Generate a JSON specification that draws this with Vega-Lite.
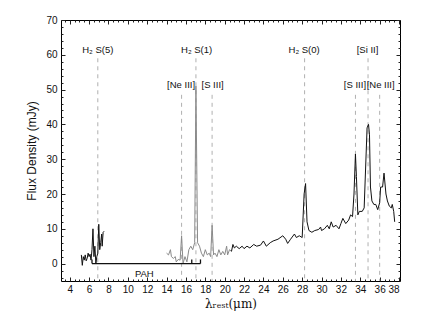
{
  "$schema": "https://vega.github.io/schema/vega-lite/v6.json",
  "width": 339,
  "height": 261,
  "autosize": {"type": "none"},
  "padding": {"left": 61, "top": 20, "right": 36, "bottom": 46},
  "background": "white",
  "config": {
    "view": {"stroke": "black", "strokeWidth": 1},
    "axis": {"grid": false, "domain": false, "labelFont": "Liberation Sans", "labelFontSize": 10, "labelColor": "#111", "tickColor": "#222"}
  },
  "datasets": {
    "spec": [
      {"wl": 5.2, "flux": 2.5, "seg": "a"}, {"wl": 5.3, "flux": -0.5, "seg": "a"}, {"wl": 5.4, "flux": 2, "seg": "a"}, {"wl": 5.5, "flux": 1, "seg": "a"},
      {"wl": 5.6, "flux": 2.5, "seg": "a"}, {"wl": 5.7, "flux": 0.8, "seg": "a"}, {"wl": 5.8, "flux": 1.5, "seg": "a"}, {"wl": 5.9, "flux": 3, "seg": "a"},
      {"wl": 6.0, "flux": 2, "seg": "a"}, {"wl": 6.1, "flux": 2.7, "seg": "a"}, {"wl": 6.2, "flux": 1, "seg": "a"}, {"wl": 6.3, "flux": 4, "seg": "a"},
      {"wl": 6.4, "flux": 10, "seg": "a"}, {"wl": 6.5, "flux": 2, "seg": "a"}, {"wl": 6.6, "flux": 5, "seg": "a"}, {"wl": 6.7, "flux": 0, "seg": "a"},
      {"wl": 6.8, "flux": 2, "seg": "a"}, {"wl": 6.9, "flux": 3, "seg": "a"}, {"wl": 7.0, "flux": 11.3, "seg": "a"}, {"wl": 7.1, "flux": 4, "seg": "a"},
      {"wl": 7.2, "flux": 6, "seg": "a"}, {"wl": 7.3, "flux": 8.5, "seg": "a"}, {"wl": 7.35, "flux": 5, "seg": "a"}, {"wl": 7.45, "flux": 9, "seg": "a"},
      {"wl": 7.55, "flux": 9.3, "seg": "a"},
      {"wl": 14.0, "flux": 3, "seg": "b"}, {"wl": 14.2, "flux": 2.5, "seg": "b"}, {"wl": 14.4, "flux": 4, "seg": "b"}, {"wl": 14.5, "flux": 2, "seg": "b"},
      {"wl": 14.7, "flux": 1.5, "seg": "b"}, {"wl": 14.9, "flux": 2, "seg": "b"}, {"wl": 15.0, "flux": 0.5, "seg": "b"}, {"wl": 15.2, "flux": 1.2, "seg": "b"},
      {"wl": 15.4, "flux": 1, "seg": "b"}, {"wl": 15.55, "flux": 8, "seg": "b"}, {"wl": 15.7, "flux": 0, "seg": "b"}, {"wl": 15.9, "flux": 2, "seg": "b"},
      {"wl": 16.1, "flux": 0.5, "seg": "b"}, {"wl": 16.3, "flux": 4, "seg": "b"}, {"wl": 16.5, "flux": 5, "seg": "b"}, {"wl": 16.7, "flux": 4, "seg": "b"},
      {"wl": 16.9, "flux": 6, "seg": "b"}, {"wl": 17.03, "flux": 51, "seg": "b"}, {"wl": 17.2, "flux": 6, "seg": "b"}, {"wl": 17.4, "flux": 5, "seg": "b"},
      {"wl": 17.6, "flux": 3, "seg": "b"}, {"wl": 17.8, "flux": 2, "seg": "b"}, {"wl": 18.0, "flux": 4, "seg": "b"}, {"wl": 18.2, "flux": 2.5, "seg": "b"},
      {"wl": 18.4, "flux": 3, "seg": "b"}, {"wl": 18.55, "flux": 2, "seg": "b"}, {"wl": 18.7, "flux": 11, "seg": "b"}, {"wl": 18.85, "flux": 2.5, "seg": "b"},
      {"wl": 19.0, "flux": 3, "seg": "b"}, {"wl": 19.2, "flux": 2, "seg": "b"}, {"wl": 19.4, "flux": 4, "seg": "b"}, {"wl": 19.6, "flux": 2.5, "seg": "b"},
      {"wl": 19.8, "flux": 3.5, "seg": "b"}, {"wl": 20.0, "flux": 2.5, "seg": "b"}, {"wl": 20.2, "flux": 5, "seg": "b"}, {"wl": 20.3, "flux": 2.5, "seg": "b"},
      {"wl": 20.5, "flux": 4, "seg": "b"}, {"wl": 20.7, "flux": 3.5, "seg": "b"},
      {"wl": 20.7, "flux": 3.5, "seg": "c"}, {"wl": 20.85, "flux": 5.5, "seg": "c"}, {"wl": 21.0, "flux": 4.5, "seg": "c"}, {"wl": 21.2, "flux": 5, "seg": "c"},
      {"wl": 21.5, "flux": 4.3, "seg": "c"}, {"wl": 21.8, "flux": 5, "seg": "c"}, {"wl": 22.0, "flux": 4.3, "seg": "c"}, {"wl": 22.3, "flux": 5, "seg": "c"},
      {"wl": 22.6, "flux": 4.5, "seg": "c"}, {"wl": 23.0, "flux": 5.5, "seg": "c"}, {"wl": 23.3, "flux": 5, "seg": "c"}, {"wl": 23.7, "flux": 5.3, "seg": "c"},
      {"wl": 24.0, "flux": 6.5, "seg": "c"}, {"wl": 24.3, "flux": 5, "seg": "c"}, {"wl": 24.7, "flux": 6, "seg": "c"}, {"wl": 25.0, "flux": 6.5, "seg": "c"},
      {"wl": 25.5, "flux": 7, "seg": "c"}, {"wl": 26.0, "flux": 8, "seg": "c"}, {"wl": 26.3, "flux": 7, "seg": "c"}, {"wl": 26.5, "flux": 5.8, "seg": "c"},
      {"wl": 26.8, "flux": 7, "seg": "c"}, {"wl": 27.2, "flux": 8.5, "seg": "c"}, {"wl": 27.4, "flux": 7.5, "seg": "c"}, {"wl": 27.7, "flux": 8, "seg": "c"},
      {"wl": 28.0, "flux": 7.5, "seg": "c"}, {"wl": 28.2, "flux": 20, "seg": "c"}, {"wl": 28.35, "flux": 23, "seg": "c"}, {"wl": 28.5, "flux": 12, "seg": "c"},
      {"wl": 28.7, "flux": 9.5, "seg": "c"}, {"wl": 29.0, "flux": 9, "seg": "c"}, {"wl": 29.3, "flux": 9.5, "seg": "c"}, {"wl": 29.7, "flux": 9.8, "seg": "c"},
      {"wl": 29.9, "flux": 10.5, "seg": "c"}, {"wl": 30.0, "flux": 9.5, "seg": "c"}, {"wl": 30.3, "flux": 10, "seg": "c"}, {"wl": 30.6, "flux": 11, "seg": "c"},
      {"wl": 30.8, "flux": 10, "seg": "c"}, {"wl": 31.0, "flux": 12, "seg": "c"}, {"wl": 31.2, "flux": 10.5, "seg": "c"}, {"wl": 31.5, "flux": 11, "seg": "c"},
      {"wl": 31.8, "flux": 10, "seg": "c"}, {"wl": 32.0, "flux": 11.5, "seg": "c"}, {"wl": 32.2, "flux": 13, "seg": "c"}, {"wl": 32.5, "flux": 11.5, "seg": "c"},
      {"wl": 32.8, "flux": 12.5, "seg": "c"}, {"wl": 33.0, "flux": 14, "seg": "c"}, {"wl": 33.2, "flux": 13.5, "seg": "c"}, {"wl": 33.35, "flux": 20, "seg": "c"},
      {"wl": 33.5, "flux": 31.5, "seg": "c"}, {"wl": 33.6, "flux": 25, "seg": "c"}, {"wl": 33.75, "flux": 14, "seg": "c"}, {"wl": 33.9, "flux": 15, "seg": "c"},
      {"wl": 34.2, "flux": 15, "seg": "c"}, {"wl": 34.4, "flux": 16, "seg": "c"}, {"wl": 34.7, "flux": 39, "seg": "c"}, {"wl": 34.85, "flux": 40, "seg": "c"},
      {"wl": 34.95, "flux": 37, "seg": "c"}, {"wl": 35.05, "flux": 22, "seg": "c"}, {"wl": 35.2, "flux": 18, "seg": "c"}, {"wl": 35.4, "flux": 17, "seg": "c"},
      {"wl": 35.6, "flux": 17, "seg": "c"}, {"wl": 35.8, "flux": 15.5, "seg": "c"}, {"wl": 36.0, "flux": 17.5, "seg": "c"}, {"wl": 36.1, "flux": 22, "seg": "c"},
      {"wl": 36.3, "flux": 22, "seg": "c"}, {"wl": 36.45, "flux": 26, "seg": "c"}, {"wl": 36.65, "flux": 20, "seg": "c"}, {"wl": 36.8, "flux": 18, "seg": "c"},
      {"wl": 37.0, "flux": 16.5, "seg": "c"}, {"wl": 37.2, "flux": 16, "seg": "c"}, {"wl": 37.3, "flux": 17, "seg": "c"}, {"wl": 37.45, "flux": 15, "seg": "c"},
      {"wl": 37.55, "flux": 12, "seg": "c"}
    ],
    "lines": [
      {"wl": 6.9, "top": 59}, {"wl": 17.03, "top": 59}, {"wl": 28.25, "top": 59}, {"wl": 34.8, "top": 59},
      {"wl": 15.55, "top": 48.5}, {"wl": 18.7, "top": 48.5}, {"wl": 33.5, "top": 48.5}, {"wl": 36.0, "top": 48.5}
    ],
    "labels": [
      {"wl": 6.9, "y": 61.3, "text": "H₂ S(5)"}, {"wl": 17.1, "y": 61.3, "text": "H₂ S(1)"}, {"wl": 28.2, "y": 61.3, "text": "H₂ S(0)"},
      {"wl": 34.75, "y": 61.3, "text": "[Si II]"}, {"wl": 15.5, "y": 51.2, "text": "[Ne III]"}, {"wl": 18.75, "y": 51.2, "text": "[S III]"},
      {"wl": 33.45, "y": 51.2, "text": "[S III]"}, {"wl": 36.1, "y": 51.2, "text": "[Ne III]"}, {"wl": 11.7, "y": -3, "text": "PAH"}
    ],
    "pah": [{"x1": 6.3, "x2": 17.5, "y1": 0, "y2": 0}, {"x1": 6.3, "x2": 6.3, "y1": 0, "y2": 1.2}, {"x1": 17.5, "x2": 17.5, "y1": 0, "y2": 1.2}, {"x1": 16.6, "x2": 16.6, "y1": 0, "y2": 1.2}]
  },
  "resolve": {"axis": {"x": "independent", "y": "independent"}},
  "layer": [
    {
      "data": {"name": "lines"},
      "mark": {"type": "rule", "color": "#b0b0b0", "strokeDash": [4, 4], "strokeWidth": 1},
      "encoding": {
        "x": {"field": "wl", "type": "quantitative", "scale": {"domain": [3.1, 38.1], "nice": false, "zero": false},
          "axis": {"orient": "top", "labels": false, "title": null, "values": [4,6,8,10,12,14,16,18,20,22,24,26,28,30,32,34,36,38], "tickSize": -4}},
        "y": {"field": "top", "type": "quantitative", "scale": {"domain": [-5, 70], "nice": false, "zero": false},
          "axis": {"orient": "right", "labels": false, "title": null, "values": [0,10,20,30,40,50,60,70], "tickSize": -4}},
        "y2": {"datum": -5}
      }
    },
    {
      "data": {"name": "spec"},
      "mark": {"type": "line", "strokeWidth": 1, "interpolate": "linear"},
      "encoding": {
        "x": {"field": "wl", "type": "quantitative", "scale": {"domain": [3.1, 38.1], "nice": false, "zero": false},
          "axis": {"orient": "bottom", "values": [4,6,8,10,12,14,16,18,20,22,24,26,28,30,32,34,36,38], "tickSize": -4, "labelPadding": 7,
            "title": "λᵣₑₛₜ(μm)", "titleFont": "DejaVu Serif", "titleFontSize": 12, "titleFontWeight": "normal", "titlePadding": 4, "titleColor": "#111"}},
        "y": {"field": "flux", "type": "quantitative", "scale": {"domain": [-5, 70], "nice": false, "zero": false},
          "axis": {"orient": "left", "values": [0,10,20,30,40,50,60,70], "tickSize": -4, "labelPadding": 8,
            "title": "Flux Density (mJy)", "titleFont": "Liberation Sans", "titleFontSize": 12, "titleFontWeight": "normal", "titlePadding": 7, "titleColor": "#111"}},
        "detail": {"field": "seg"},
        "color": {"field": "seg", "type": "nominal", "scale": {"domain": ["a", "b", "c"], "range": ["#111111", "#8a8a8a", "#111111"]}, "legend": null}
      }
    },
    {
      "data": {"name": "pah"},
      "mark": {"type": "rule", "color": "#111", "strokeWidth": 1.3},
      "encoding": {
        "x": {"field": "x1", "type": "quantitative", "scale": {"domain": [3.1, 38.1], "nice": false, "zero": false},
          "axis": {"orient": "bottom", "labels": false, "title": null, "values": [3.5,4.5,5,5.5,6.5,7,7.5,8.5,9,9.5,10.5,11,11.5,12.5,13,13.5,14.5,15,15.5,16.5,17,17.5,18.5,19,19.5,20.5,21,21.5,22.5,23,23.5,24.5,25,25.5,26.5,27,27.5,28.5,29,29.5,30.5,31,31.5,32.5,33,33.5,34.5,35,35.5,36.5,37,37.5], "tickSize": -2}},
        "x2": {"field": "x2"},
        "y": {"field": "y1", "type": "quantitative", "scale": {"domain": [-5, 70], "nice": false, "zero": false},
          "axis": {"orient": "left", "labels": false, "title": null, "values": [-4,-2,2,4,6,8,12,14,16,18,22,24,26,28,32,34,36,38,42,44,46,48,52,54,56,58,62,64,66,68], "tickSize": -2}},
        "y2": {"field": "y2"}
      }
    },
    {
      "data": {"name": "labels"},
      "mark": {"type": "text", "font": "Liberation Sans", "fontSize": 9.5, "color": "#111", "align": "center", "baseline": "middle"},
      "encoding": {
        "x": {"field": "wl", "type": "quantitative", "scale": {"domain": [3.1, 38.1], "nice": false, "zero": false},
          "axis": {"orient": "top", "labels": false, "title": null, "values": [3.5,4.5,5,5.5,6.5,7,7.5,8.5,9,9.5,10.5,11,11.5,12.5,13,13.5,14.5,15,15.5,16.5,17,17.5,18.5,19,19.5,20.5,21,21.5,22.5,23,23.5,24.5,25,25.5,26.5,27,27.5,28.5,29,29.5,30.5,31,31.5,32.5,33,33.5,34.5,35,35.5,36.5,37,37.5], "tickSize": -2}},
        "y": {"field": "y", "type": "quantitative", "scale": {"domain": [-5, 70], "nice": false, "zero": false},
          "axis": {"orient": "right", "labels": false, "title": null, "values": [-4,-2,2,4,6,8,12,14,16,18,22,24,26,28,32,34,36,38,42,44,46,48,52,54,56,58,62,64,66,68], "tickSize": -2}},
        "text": {"field": "text"}
      }
    }
  ]
}
